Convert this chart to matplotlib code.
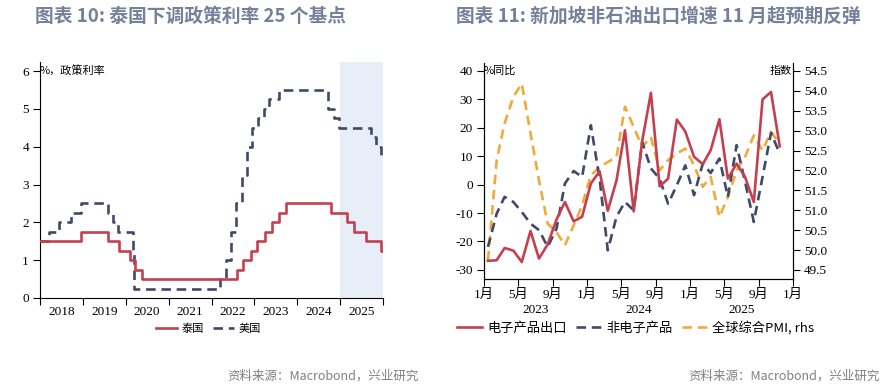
import numpy as np
import pandas as pd
import matplotlib
matplotlib.use("Agg")
import matplotlib.pyplot as plt
from matplotlib.transforms import blended_transform_factory

plt.rcParams['font.family'] = ['Liberation Serif', 'Noto Sans CJK SC', 'DejaVu Sans']
plt.rcParams['axes.unicode_minus'] = False

RED = '#C5404F'
NAVY = '#3E4A66'
ORANGE = '#F2A93B'
TITLE_C = '#75819A'
SHADE = '#E8EEF7'
CJK = ['Noto Sans CJK SC', 'DejaVu Sans']
SER = ['Liberation Serif', 'Noto Sans CJK SC']

# ---------- left chart data: policy rate change points ----------
thai_dates = ['2018-01-01', '2018-12-20', '2019-08-07', '2019-11-06', '2020-02-05',
              '2020-03-20', '2020-05-20', '2022-08-10', '2022-09-28', '2022-11-30',
              '2023-01-25', '2023-03-29', '2023-05-31', '2023-08-02', '2023-09-27',
              '2024-10-16', '2025-02-26', '2025-04-30', '2025-08-13', '2025-12-17']
thai_rates = [1.5, 1.75, 1.5, 1.25, 1.0, 0.75, 0.5, 0.75, 1.0, 1.25,
              1.5, 1.75, 2.0, 2.25, 2.5, 2.25, 2.0, 1.75, 1.5, 1.25]

us_dates = ['2018-01-01', '2018-03-21', '2018-06-13', '2018-09-26', '2018-12-19',
            '2019-08-01', '2019-09-19', '2019-10-31', '2020-03-03', '2020-03-16',
            '2022-03-17', '2022-05-05', '2022-06-16', '2022-07-28', '2022-09-22',
            '2022-11-03', '2022-12-15', '2023-02-02', '2023-03-23', '2023-05-04',
            '2023-07-27', '2024-09-19', '2024-11-08', '2024-12-19', '2025-09-18',
            '2025-10-30', '2025-12-11']
us_rates = [1.5, 1.75, 2.0, 2.25, 2.5, 2.25, 2.0, 1.75, 1.25, 0.25,
            0.5, 1.0, 1.75, 2.5, 3.25, 4.0, 4.5, 4.75, 5.0, 5.25,
            5.5, 5.0, 4.75, 4.5, 4.25, 4.0, 3.75]
rate_end = '2025-12-20'
years = list(range(2018, 2026))

# ---------- right chart data: monthly, Jan 2023 - Nov 2025 ----------
months = pd.date_range('2023-01-01', periods=35, freq='MS') + pd.Timedelta(days=14)
electronics = [-26.8, -26.6, -22.3, -23.2, -27.2, -16.3, -26.0, -21.0, -12.3, -6.1, -12.9, -11.3,
               0.4, 4.7, -9.2, 1.5, 19.1, -9.4, 15.3, 32.3, -0.6, 2.1, 22.9, 18.7,
               9.8, 7.2, 12.1, 23.0, 2.1, 7.4, 2.7, -6.1, 30.0, 32.6, 13.5]
non_electronics = [-21.9, -10.2, -4.3, -6.1, -9.6, -13.7, -16.0, -21.9, -15.5, 0.4, 4.8, 2.7,
                   20.9, 2.1, -23.1, -11.3, -6.1, -9.0, 15.0, 5.7, 2.1, -6.7, -0.2, 6.8,
                   -3.7, 7.4, 4.1, 9.2, -4.3, 13.9, 1.0, -13.1, 2.7, 18.2, 10.9]
global_pmi = [49.74, 52.26, 53.18, 53.85, 54.18, 52.93, 51.75, 50.66, 50.45, 50.12, 50.62, 51.12,
              51.88, 52.09, 52.21, 52.34, 53.60, 53.09, 52.59, 52.84, 52.00, 52.26, 52.42, 52.55,
              52.13, 51.59, 51.84, 50.83, 51.33, 52.00, 52.34, 52.88, 52.50, 52.97, 52.67]
month_ticks = pd.date_range('2023-01-01', '2026-01-01', freq='4MS')
year_labels = ['2023', '2024', '2025']

fig = plt.figure(figsize=(8.94, 3.84), dpi=100)

# ================= left chart =================
ax1 = fig.add_axes([40 / 894, 1 - 298 / 384, 343 / 894, 236 / 384])
td = pd.to_datetime(thai_dates + [rate_end])
ud = pd.to_datetime(us_dates + [rate_end])
ax1.axvspan(pd.Timestamp('2025-01-01'), pd.Timestamp('2026-01-01'), color=SHADE, lw=0, zorder=0)
ax1.step(td, thai_rates + [thai_rates[-1]], where='post', color=RED, lw=1.9, label='泰国', zorder=3)
ax1.step(ud, us_rates + [us_rates[-1]], where='post', color=NAVY, lw=1.9,
         dashes=(3.6, 2.2), label='美国', zorder=2)
ax1.set_xlim(pd.Timestamp('2018-01-01'), pd.Timestamp('2026-01-01'))
ax1.set_ylim(0, 6.24)
ax1.set_yticks(range(0, 7))
ax1.set_xticks([pd.Timestamp(f'{y}-01-01') for y in years] + [pd.Timestamp('2026-01-01')])
ax1.set_xticklabels([])
ax1.set_xticks([pd.Timestamp(f'{y}-07-02') for y in years], minor=True)
ax1.set_xticklabels([str(y) for y in years], minor=True)
ax1.tick_params(axis='x', which='major', direction='out', length=5, width=0.8)
ax1.tick_params(axis='x', which='minor', length=0, pad=6, labelsize=9.5)
ax1.tick_params(axis='y', direction='out', length=5, width=0.8, labelsize=9.5, pad=3)
for s in ['top', 'right']:
    ax1.spines[s].set_visible(False)
ax1.text(0.0, 6, '%，政策利率', fontsize=8, va='center', ha='left', family=CJK,
         transform=blended_transform_factory(ax1.transAxes, ax1.transData))
ax1.legend(loc='center', bbox_to_anchor=(0.49, -0.13), ncol=2, frameon=False,
           prop={'family': CJK, 'size': 8}, handlelength=1.9, columnspacing=0.8,
           handletextpad=0.4)

# ================= right chart =================
ax2 = fig.add_axes([484 / 894, 1 - 279 / 384, 309 / 894, 216 / 384])
ax3 = ax2.twinx()
l1, = ax2.plot(months, electronics, color=RED, lw=1.9, label='电子产品出口', zorder=3)
l2, = ax2.plot(months, non_electronics, color=NAVY, lw=1.9, dashes=(3.6, 2.2), label='非电子产品', zorder=2)
l3, = ax3.plot(months, global_pmi, color=ORANGE, lw=1.9, dashes=(3.6, 2.2), label='全球综合PMI, rhs')
ax2.set_zorder(ax3.get_zorder() + 1)
ax2.patch.set_visible(False)
ylo, yhi = -33.2, 42.8
ax2.set_ylim(ylo, yhi)
ax3.set_ylim(49.5 + (ylo + 30) / 14, 49.5 + (yhi + 30) / 14)
ax2.set_yticks(range(-30, 41, 10))
ax3.set_yticks(np.arange(49.5, 54.6, 0.5))
ax3.set_yticklabels([f'{v:.1f}' for v in np.arange(49.5, 54.6, 0.5)])
ax2.set_xlim(pd.Timestamp('2023-01-01'), pd.Timestamp('2026-01-01'))
ax2.set_xticks(month_ticks)
ax2.set_xticklabels([f'{d.month}月' for d in month_ticks], family=SER)
ax2.tick_params(axis='x', direction='out', length=5, width=0.8, labelsize=9.5, pad=2)
ax2.tick_params(axis='y', direction='out', length=5, width=0.8, labelsize=9.5, pad=3)
ax3.tick_params(axis='y', direction='out', length=5, width=0.8, labelsize=9.5, pad=3)
for a in (ax2, ax3):
    a.spines['top'].set_visible(False)
ytr = blended_transform_factory(ax2.transData, ax2.transAxes)
for y in year_labels:
    ax2.text(pd.Timestamp(f'{y}-07-02'), -0.145, y, ha='center', va='center', fontsize=9.5,
             transform=ytr)
ax2.text(0.0, 40, '%同比', fontsize=8, va='center', ha='left', family=CJK,
         transform=blended_transform_factory(ax2.transAxes, ax2.transData))
ax2.text(0.995, 40, '指数', fontsize=8, va='center', ha='right', family=CJK,
         transform=blended_transform_factory(ax2.transAxes, ax2.transData))
ax2.legend(handles=[l1, l2, l3], loc='center', bbox_to_anchor=(0.49, -0.225), ncol=3,
           frameon=False, prop={'family': CJK, 'size': 9.5}, handlelength=1.9,
           columnspacing=0.7, handletextpad=0.4)

# ================= titles & sources =================
fig.text(35 / 894, 1 - 16 / 384, '图表 10: 泰国下调政策利率 25 个基点', fontsize=13.5,
         fontweight='bold', color=TITLE_C, family=CJK, va='center', ha='left')
fig.text(456 / 894, 1 - 16 / 384, '图表 11: 新加坡非石油出口增速 11 月超预期反弹', fontsize=13.5,
         fontweight='bold', color=TITLE_C, family=CJK, va='center', ha='left')
fig.text(419 / 894, 1 - 376 / 384, '资料来源：Macrobond，兴业研究', fontsize=9,
         color='#808080', family=CJK, va='center', ha='right')
fig.text(880 / 894, 1 - 376 / 384, '资料来源：Macrobond，兴业研究', fontsize=9,
         color='#808080', family=CJK, va='center', ha='right')

fig.savefig('out.png', dpi=100)
